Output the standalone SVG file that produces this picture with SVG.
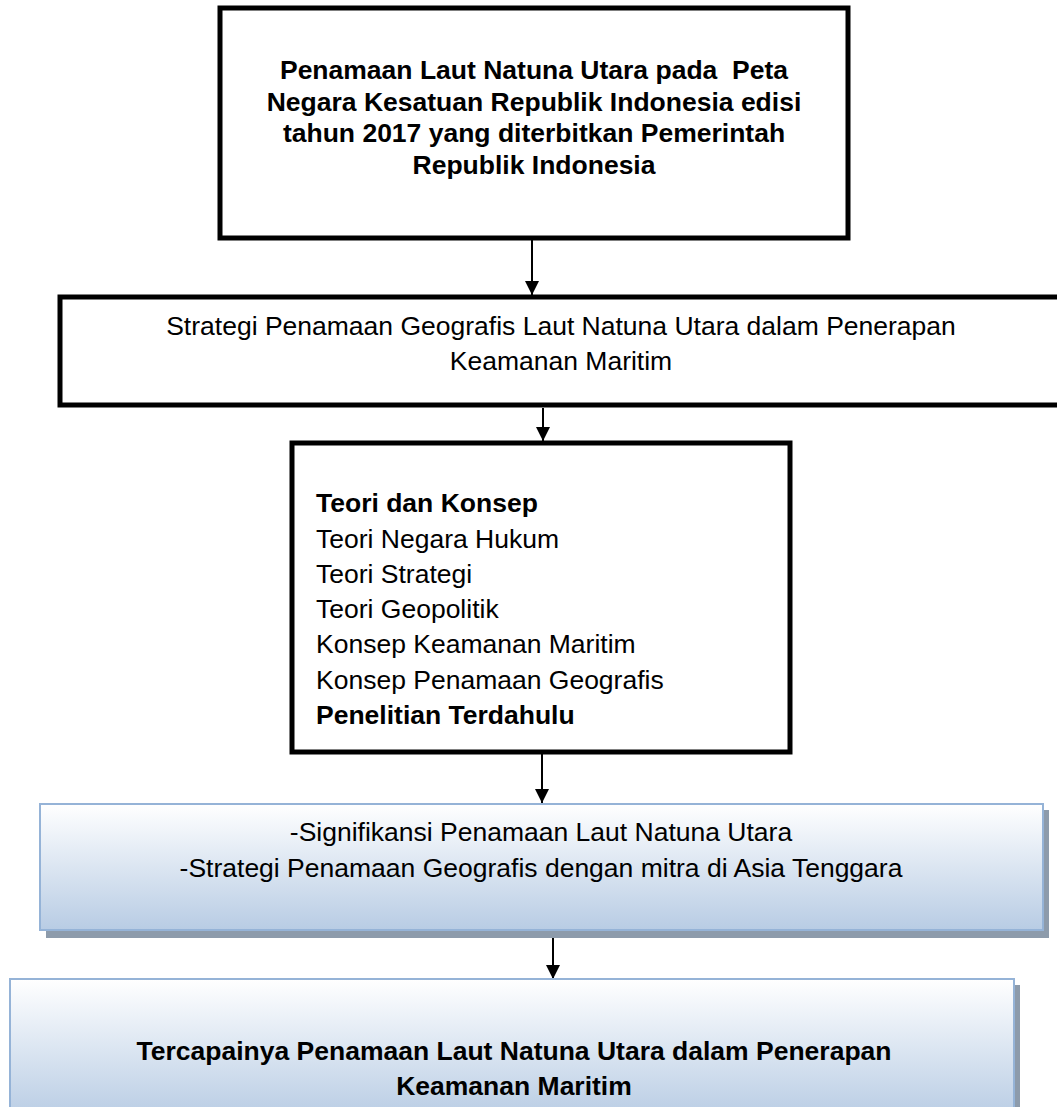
<svg xmlns="http://www.w3.org/2000/svg" width="1057" height="1107" viewBox="0 0 1057 1107">
  <style>
    .t { font-family: "Liberation Sans", Arial, sans-serif; font-size: 26.5px; fill: #000; white-space: pre; }
    .b { font-weight: bold; }
    .c { text-anchor: middle; }
    .box { fill: #fff; stroke: #000; stroke-width: 5; }
    .blue { fill: url(#grad); stroke: #95b3d7; stroke-width: 2; }
    .shadow { fill: #8d9bab; }
    .edge { stroke: #000; stroke-width: 2; fill: none; marker-end: url(#arrow); }
  </style>
  <defs>
    <linearGradient id="grad" x1="0" y1="0" x2="0" y2="1">
      <stop offset="0" stop-color="#ffffff"/>
      <stop offset="1" stop-color="#b8cce4"/>
    </linearGradient>
    <marker id="arrow" markerUnits="userSpaceOnUse" markerWidth="14" markerHeight="14" refX="14" refY="7" orient="auto">
      <path d="M0,0 L14,7 L0,14 z" fill="#000"/>
    </marker>
  </defs>
  <rect width="1057" height="1107" fill="#fff"/>

  <g id="connectors">
    <line class="edge" x1="532" y1="240" x2="532" y2="295"/>
    <line class="edge" x1="543" y1="408" x2="543" y2="441"/>
    <line class="edge" x1="542" y1="754" x2="542" y2="803"/>
    <line class="edge" x1="553" y1="938" x2="553" y2="979"/>
  </g>

  <g id="node1">
    <rect class="box" x="220" y="8" width="628" height="230"/>
    <text class="t b c" x="534" y="79" xml:space="preserve">Penamaan Laut Natuna Utara pada  Peta</text>
    <text class="t b c" x="534" y="111">Negara Kesatuan Republik Indonesia edisi</text>
    <text class="t b c" x="534" y="142">tahun 2017 yang diterbitkan Pemerintah</text>
    <text class="t b c" x="534" y="174">Republik Indonesia</text>
  </g>

  <g id="node2">
    <rect class="box" x="60" y="297" width="1020" height="108"/>
    <text class="t c" x="561" y="335">Strategi Penamaan Geografis Laut Natuna Utara dalam Penerapan</text>
    <text class="t c" x="561" y="370">Keamanan Maritim</text>
  </g>

  <g id="node3">
    <rect class="box" x="292" y="443" width="498" height="309"/>
    <text class="t b" x="316" y="512">Teori dan Konsep</text>
    <text class="t" x="316" y="548">Teori Negara Hukum</text>
    <text class="t" x="316" y="583">Teori Strategi</text>
    <text class="t" x="316" y="618">Teori Geopolitik</text>
    <text class="t" x="316" y="653">Konsep Keamanan Maritim</text>
    <text class="t" x="316" y="689">Konsep Penamaan Geografis</text>
    <text class="t b" x="316" y="724">Penelitian Terdahulu</text>
  </g>

  <g id="node4">
    <rect class="shadow" x="46" y="810" width="1003" height="128"/>
    <rect class="blue" x="40" y="804" width="1003" height="126"/>
    <text class="t c" x="541" y="841">-Signifikansi Penamaan Laut Natuna Utara</text>
    <text class="t c" x="541" y="877">-Strategi Penamaan Geografis dengan mitra di Asia Tenggara</text>
  </g>

  <g id="node5">
    <rect class="shadow" x="16" y="985" width="1004" height="140"/>
    <rect class="blue" x="10" y="979" width="1004" height="140"/>
    <text class="t b c" x="514" y="1060">Tercapainya Penamaan Laut Natuna Utara dalam Penerapan</text>
    <text class="t b c" x="514" y="1095">Keamanan Maritim</text>
  </g>
</svg>
